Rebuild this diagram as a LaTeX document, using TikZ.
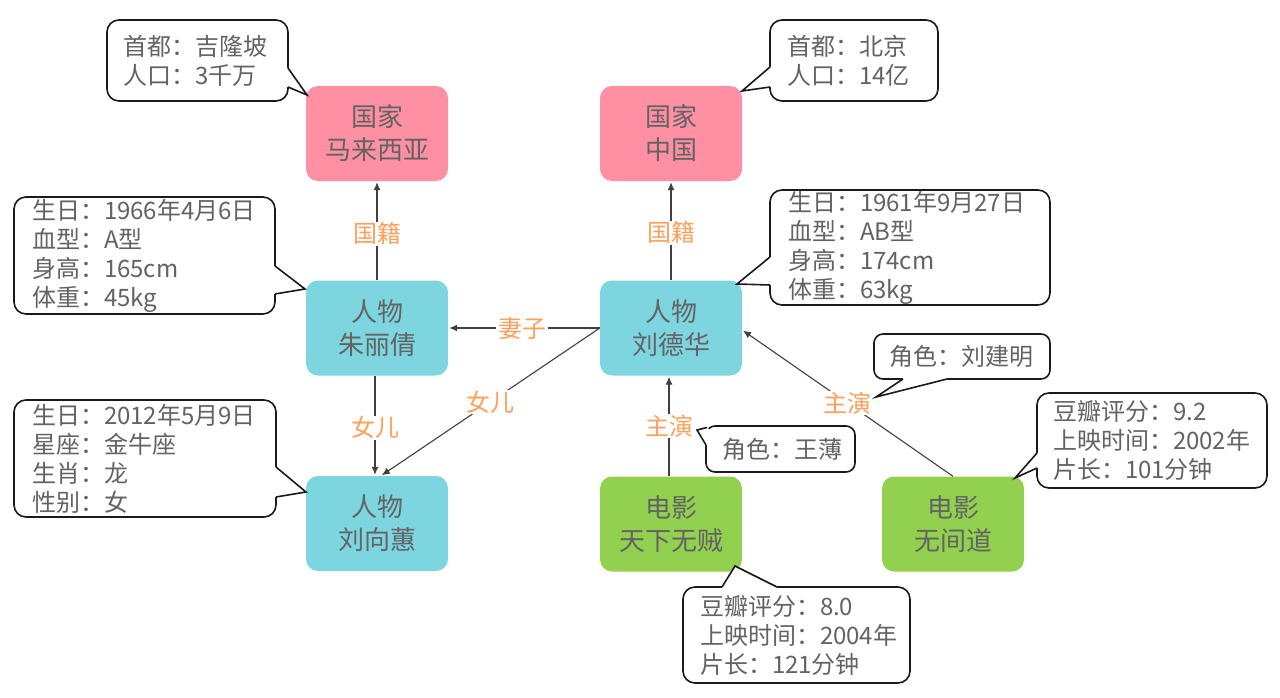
\documentclass[tikz,border=0pt]{standalone}
\usepackage{fontspec}
\setmainfont{Noto Sans CJK SC}
\usetikzlibrary{arrows.meta}
\definecolor{pinkc}{HTML}{FF8FA3}
\definecolor{cyanc}{HTML}{7DD5E0}
\definecolor{greenc}{HTML}{92D050}
\definecolor{txtc}{HTML}{636363}
\definecolor{lblc}{HTML}{FF9F5A}
\definecolor{edgec}{HTML}{404040}
\definecolor{bordc}{HTML}{1A1A1A}
\begin{document}
\begin{tikzpicture}[x=1pt,y=-1pt,
  entity/.style={rectangle, rounded corners=12pt, minimum width=142pt, minimum height=95pt,
    text=txtc, align=center, font=\fontsize{26}{33}\selectfont, inner sep=0pt},
  pinkbox/.style={entity, fill=pinkc},
  cyanbox/.style={entity, fill=cyanc},
  greenbox/.style={entity, fill=greenc},
  edge/.style={draw=edgec, line width=1.1pt, -{Latex[length=8pt,width=7pt]}, shorten >=1pt},
  rel/.style={fill=white, text=lblc, font=\fontsize{24}{28}\selectfont, inner xsep=2pt, inner ysep=1pt},
  callout/.style={rectangle, draw=bordc, line width=1.6pt, fill=white, rounded corners=12pt,
    text=txtc, align=left, font=\fontsize{24}{29}\selectfont, inner ysep=0pt},
  ptrline/.style={draw=bordc, line width=1.6pt, line join=miter},
]
\useasboundingbox (0,0) rectangle (1280,698);
\fill[white] (0,0) rectangle (1280,698);

% entity nodes
\node[pinkbox]  (mlxy) at (377,133.5) {国家\\马来西亚};
\node[pinkbox]  (zg)   at (671,133.5) {国家\\中国};
\node[cyanbox]  (zlq)  at (377,328)   {人物\\朱丽倩};
\node[cyanbox]  (ldh)  at (671,328)   {人物\\刘德华};
\node[cyanbox]  (lxh)  at (377,523.5) {人物\\刘向蕙};
\node[greenbox] (txwz) at (671,524)   {电影\\天下无贼};
\node[greenbox] (wjd)  at (953,524)   {电影\\无间道};

% connectors
\draw[edge] (zlq) -- node[rel,pos=0.47] (l1) {国籍} (mlxy);
\draw[edge] (ldh) -- node[rel,pos=0.48] (l2) {国籍} (zg);
\draw[edge] (ldh) -- node[rel,pos=0.51] (l3) {妻子} (zlq);
\draw[edge] ([xshift=-2pt]zlq.south) -- node[rel,pos=0.52] (l4) {女儿} ([xshift=-2pt]lxh.north);
\draw[edge] (ldh.west) -- node[rel,pos=0.5] (l5) {女儿} ([xshift=4pt]lxh.north);
\draw[edge] ([xshift=-2pt]txwz.north) -- node[rel,pos=0.5] (l6) {主演} ([xshift=-2pt]ldh.south);
\draw[edge] (wjd.north) -- node[rel,pos=0.5] (l7) {主演} ([yshift=-2pt]ldh.east);

% callouts
\node[callout, minimum width=181pt, minimum height=81pt, inner xsep=16pt, text width=149pt]
  (c1) at (197.5,60.5) {首都：吉隆坡\\人口：3千万};
\fill[white] (285,68) -- (288,68) -- (307,95) -- (288,87) -- (285,87) -- cycle;
\draw[ptrline] (288,68) -- (307,95) -- (288,87);

\node[callout, minimum width=168pt, minimum height=81pt, inner xsep=17pt, text width=134pt]
  (c2) at (854,60.5) {首都：北京\\人口：14亿};
\fill[white] (773,67) -- (770,67) -- (742,91) -- (770,87) -- (773,87) -- cycle;
\draw[ptrline] (770,67) -- (742,91) -- (770,87);

\node[callout, minimum width=261pt, minimum height=117pt, inner xsep=18pt, text width=225pt]
  (c3) at (144.5,255.5) {生日：1966年4月6日\\血型：A型\\身高：165cm\\体重：45kg};
\fill[white] (272,266) -- (275,266) -- (305,289) -- (275,294) -- (272,294) -- cycle;
\draw[ptrline] (275,266) -- (305,289) -- (275,294);

\node[callout, minimum width=280pt, minimum height=115pt, inner xsep=18pt, text width=244pt]
  (c4) at (910,247.5) {生日：1961年9月27日\\血型：AB型\\身高：174cm\\体重：63kg};
\fill[white] (773,257) -- (770,257) -- (737,284) -- (770,285) -- (773,285) -- cycle;
\draw[ptrline] (770,257) -- (737,284) -- (770,285);

\node[callout, minimum width=262pt, minimum height=117pt, inner xsep=18pt, text width=226pt]
  (c5) at (145,458.5) {生日：2012年5月9日\\星座：金牛座\\生肖：龙\\性别：女};
\fill[white] (273,467) -- (276,467) -- (306,492) -- (276,497) -- (273,497) -- cycle;
\draw[ptrline] (276,467) -- (306,492) -- (276,497);

\node[callout, rounded corners=9pt, minimum width=176pt, minimum height=45pt, inner xsep=15pt, text width=146pt]
  (c6) at (962,356.5) {角色：刘建明};
\fill[white] (903,376) -- (903,379) -- (876,397) -- (947,379) -- (947,376) -- cycle;
\draw[ptrline] (903,379) -- (876,397) -- (947,379);

\node[callout, rounded corners=9pt, minimum width=149pt, minimum height=46pt, inner xsep=16pt, text width=117pt]
  (c7) at (780.5,449) {角色：王薄};
\fill[white] (710,430) -- (707,427.5) -- (697,430) -- (706,445) -- (709,445) -- cycle;
\draw[ptrline] (707,427.5) -- (697,430) -- (706,445);

\node[callout, minimum width=230pt, minimum height=95pt, inner xsep=16pt, text width=198pt]
  (c8) at (1152,440.5) {豆瓣评分：9.2\\上映时间：2002年\\片长：101分钟};
\fill[white] (1040,453) -- (1037,453) -- (1015,478) -- (1037,468) -- (1040,468) -- cycle;
\draw[ptrline] (1037,453) -- (1015,478) -- (1037,468);

\node[callout, minimum width=227pt, minimum height=96pt, inner xsep=17pt, text width=193pt]
  (c9) at (796.5,635) {豆瓣评分：8.0\\上映时间：2004年\\片长：121分钟};
\fill[white] (722,590) -- (722,587) -- (735,566) -- (777,587) -- (777,590) -- cycle;
\draw[ptrline] (722,587) -- (735,566) -- (777,587);
\end{tikzpicture}
\end{document}
